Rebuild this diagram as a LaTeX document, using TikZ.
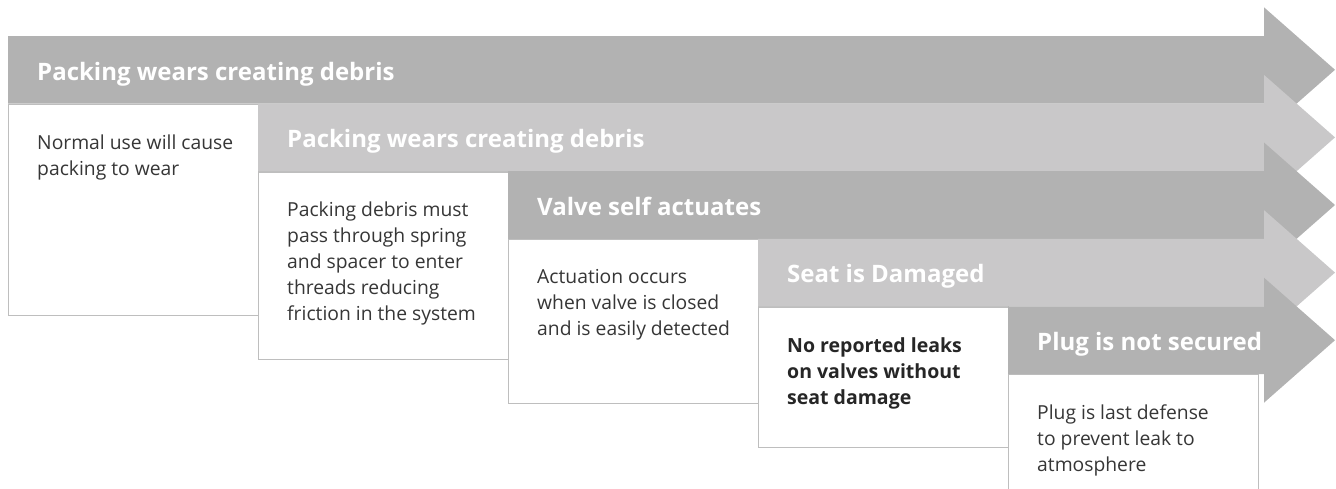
\documentclass[tikz,border=0pt]{standalone}
\usepackage{fontspec}
\setmainfont{Open Sans}
\usepackage{tikz}
\usetikzlibrary{positioning}
\definecolor{darkband}{HTML}{B2B2B2}
\definecolor{lightband}{HTML}{C9C8C9}
\definecolor{cardline}{HTML}{BEBEBE}
\definecolor{bodytext}{HTML}{363636}
% one step arrow: colour, left end, top edge
\newcommand{\bandarrow}[3]{\fill[#1] (#2,#3) -- (1264,#3) -- (1264,#3+33.8-62.5) -- (1335,#3+33.8) -- (1264,#3+33.8+62.5) -- (1264,#3+67.6) -- (#2,#3+67.6) -- cycle;}

\begin{document}
\begin{tikzpicture}[x=1pt,y=-1pt,
		card/.style={draw=cardline,line width=1.3pt,fill=white,anchor=north west,minimum width=250pt,inner sep=0},
		head/.style={anchor=base west,inner sep=0,text=white,font={\fontsize{24}{28}\selectfont\bfseries}},
		note/.style={anchor=north west,inner sep=0,align=left,text=bodytext,font={\fontsize{19.3}{26}\selectfont}}]
		\useasboundingbox (0,0) rectangle (1336,488);
		\clip (0,0) rectangle (1336,488);
		%white cards under the arrows
		\node [card,minimum height=211.4pt] (c1) at (8,103.6) {};
		\node [card,minimum height=187.8pt] (c2) at (258,171.2) {};
		\node [card,minimum height=164.2pt] (c3) at (508,238.8) {};
		\node [card,minimum height=140.6pt] (c4) at (758,306.4) {};
		\node [card,minimum height=125pt] (c5) at (1008,374) {};
		%the arrows, later ones on top
		\bandarrow{darkband}{8}{36}
		\bandarrow{lightband}{258}{103.6}
		\bandarrow{darkband}{508}{171.2}
		\bandarrow{lightband}{758}{238.8}
		\bandarrow{darkband}{1008}{306.4}
		\node [head] (h1) at ([xshift=29pt,yshift=23.5pt]c1.north west) {Packing wears creating debris};
		\node [head] (h2) at ([xshift=29pt,yshift=23.5pt]c2.north west) {Packing wears creating debris};
		\node [head] (h3) at ([xshift=29pt,yshift=23.5pt]c3.north west) {Valve self actuates};
		\node [head] (h4) at ([xshift=29pt,yshift=23.5pt]c4.north west) {Seat is Damaged};
		\node [head] (h5) at ([xshift=29pt,yshift=23.5pt]c5.north west) {Plug is not secured};
		%card texts
		\node [note] (n1) at ([xshift=29pt,yshift=-30.6pt]c1.north west) {Normal use will cause\\packing to wear};
		\node [note] (n2) at ([xshift=29pt,yshift=-30.6pt]c2.north west) {Packing debris must\\pass through spring\\and spacer to enter\\threads reducing\\friction in the system};
		\node [note] (n3) at ([xshift=29pt,yshift=-30.6pt]c3.north west) {Actuation occurs\\when valve is closed\\and is easily detected};
		\node [note,text=black!85,font={\fontsize{19.5}{26}\selectfont\bfseries}] (n4) at ([xshift=29pt,yshift=-30.6pt]c4.north west) {No reported leaks\\on valves without\\seat damage};
		\node [note] (n5) at ([xshift=29pt,yshift=-30.6pt]c5.north west) {Plug is last defense\\to prevent leak to\\atmosphere};
		\end{tikzpicture}
\end{document}
